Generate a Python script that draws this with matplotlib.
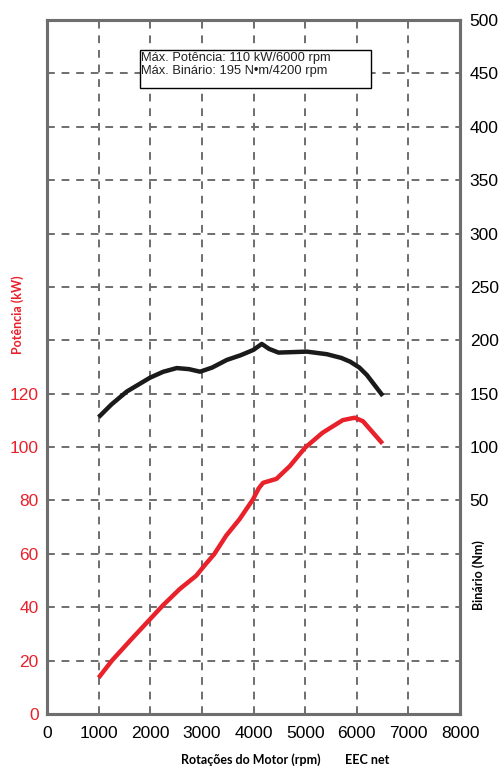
import matplotlib
matplotlib.use("Agg")
import matplotlib.pyplot as plt

# Data
rpm_power = [1000, 1257, 1610, 2000, 2250, 2570, 2890, 3045, 3240, 3470, 3730, 3990, 4100, 4185, 4445, 4705, 5000, 5340, 5730, 5960, 6120, 6500]
power_kw = [13.6, 20.0, 27.5, 35.6, 40.8, 46.8, 51.8, 55.5, 59.9, 66.8, 73.0, 80.4, 84.5, 86.6, 88.1, 92.9, 99.8, 105.4, 110.1, 111.0, 109.7, 101.3]

rpm_torque = [1000, 1250, 1545, 1996, 2250, 2513, 2750, 2965, 3200, 3482, 3750, 3998, 4160, 4300, 4484, 5033, 5420, 5700, 5872, 6050, 6196, 6505]
torque_nm = [128, 140, 152, 165, 170.5, 174, 173, 170.6, 174.5, 181.6, 186, 191, 196.6, 192, 188.5, 189.4, 187, 183.5, 180, 174.5, 167.5, 148]

x_ticks = [0, 1000, 2000, 3000, 4000, 5000, 6000, 7000, 8000]
left_ticks = [0, 20, 40, 60, 80, 100, 120]
right_ticks = [50, 100, 150, 200, 250, 300, 350, 400, 450, 500]
grid_y = list(range(0, 261, 20))

annotation_lines = ["Máx. Potência: 110 kW/6000 rpm", "Máx. Binário: 195 N•m/4200 rpm"]

RED = "#e8212b"
GRAY = "#6e6e6e"
FONT = ["Liberation Sans", "DejaVu Sans"]
BOLD = ["Lato", "DejaVu Sans"]

fig = plt.figure(figsize=(5.02, 7.68), dpi=100)
ax = fig.add_axes([47/502, 1-714/768, (460-47)/502, (714-20)/768])
ax2 = ax.twinx()

ax.set_xlim(0, 8000)
ax.set_ylim(0, 260)
ax2.set_ylim(-150, 500)

# grid
for x in x_ticks[1:-1]:
    ax.axvline(x, color=GRAY, lw=1.4, ls=(0, (4, 3.5)), zorder=1)
for y in grid_y[1:-1]:
    ax.axhline(y, color=GRAY, lw=1.4, ls=(0, (4, 3.5)), zorder=1)

ax.plot(rpm_power, power_kw, color=RED, lw=3.2, solid_capstyle="butt",
        solid_joinstyle="round", zorder=3)
ax2.plot(rpm_torque, torque_nm, color="#1a1a1a", lw=3.2, solid_capstyle="butt",
         solid_joinstyle="round", zorder=3)

ax.set_xticks(x_ticks)
ax.set_xticklabels([str(v) for v in x_ticks], fontsize=12.5, family=FONT)
ax.set_yticks(left_ticks)
ax.set_yticklabels([str(v) for v in left_ticks], fontsize=12.5, color=RED, family=FONT)
ax2.set_yticks(right_ticks)
ax2.set_yticklabels([str(v) for v in right_ticks], fontsize=12.5, family=FONT)

ax.tick_params(axis="x", length=0, pad=9)
ax.tick_params(axis="y", length=0, pad=6)
ax2.tick_params(axis="y", length=0, pad=7)

for a in (ax, ax2):
    for s in a.spines.values():
        s.set_color(GRAY)
        s.set_linewidth(2.2)

# annotation box
ax.add_patch(plt.Rectangle((1800, 234.7), 4470, 13.9, fill=True, fc="white",
                           ec="black", lw=1.0, zorder=4))
ax.text(1830, 248.0, "\n".join(annotation_lines), fontsize=9.3, family=FONT,
        color="#222222", va="top", ha="left", linespacing=1.15, zorder=5)

fig.text(18/502, 1-315/768, "Potência (kW)", rotation=90, color=RED, fontsize=9,
         fontweight="bold", ha="center", va="center", family=BOLD)
fig.text(479/502, 1-575/768, "Binário (Nm)", rotation=90, color="black", fontsize=9,
         fontweight="bold", ha="center", va="center", family=BOLD)
fig.text(251/502, 1-760/768, "Rotações do Motor (rpm)", color="black", fontsize=9,
         fontweight="bold", ha="center", va="center", family=BOLD)
fig.text(367/502, 1-760/768, "EEC net", color="black", fontsize=9,
         fontweight="bold", ha="center", va="center", family=BOLD)

fig.savefig("out.png", dpi=100)
